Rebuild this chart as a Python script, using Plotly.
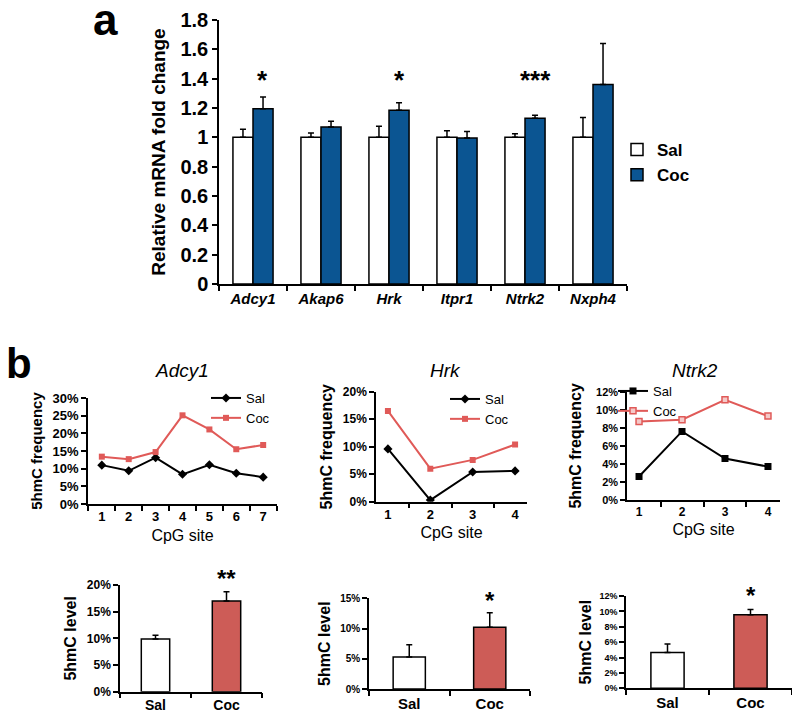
import plotly.graph_objects as go

# ---------------- data ----------------
genes_a = ["Adcy1", "Akap6", "Hrk", "Itpr1", "Ntrk2", "Nxph4"]
sal_a = [1.0, 1.0, 1.0, 1.0, 1.0, 1.0]
sal_a_err = [0.055, 0.03, 0.075, 0.045, 0.025, 0.135]
coc_a = [1.195, 1.07, 1.185, 0.995, 1.13, 1.36]
coc_a_err = [0.08, 0.04, 0.05, 0.045, 0.02, 0.28]
sig_a = ["*", "", "*", "", "***", ""]

sites_adcy1 = ["1", "2", "3", "4", "5", "6", "7"]
adcy1_sal = [11.0, 9.4, 13.1, 8.4, 11.1, 8.7, 7.6]
adcy1_coc = [13.4, 12.7, 14.7, 25.1, 21.1, 15.5, 16.7]

sites_hrk = ["1", "2", "3", "4"]
hrk_sal = [9.6, 0.3, 5.4, 5.6]
hrk_coc = [16.5, 6.0, 7.6, 10.4]

sites_ntrk2 = ["1", "2", "3", "4"]
ntrk2_sal = [2.6, 7.6, 4.6, 3.7]
ntrk2_coc = [8.7, 8.9, 11.1, 9.3]

groups = ["Sal", "Coc"]
lvl_adcy1 = [9.9, 17.0]
lvl_adcy1_err = [0.7, 1.75]
lvl_hrk = [5.3, 10.2]
lvl_hrk_err = [2.0, 2.4]
lvl_ntrk2 = [4.65, 9.55]
lvl_ntrk2_err = [1.1, 0.7]
sig_b = ["**", "*", "*"]

# ---------------- style ----------------
PAGE_W, PAGE_H = 800, 719
OFF = 8  # default body margin of the html page
W, H = PAGE_W - 2 * OFF, PAGE_H - 2 * OFF
FONT = "Liberation Sans, Arial, sans-serif"
BLUE = "#0B5592"
RED_LINE = "#E05A58"
RED_BAR = "#CD5C57"


def fx_free(px):
    return (px - OFF) / W


def fy_free(py):
    return 1 - (py - OFF) / H


def fx(px):
    return min(1.0, max(0.0, fx_free(px)))


def fy(py):
    return min(1.0, max(0.0, fy_free(py)))


fig = go.Figure()

# panel a bars
fig.add_trace(go.Bar(
    x=genes_a, y=sal_a, name="Sal", legend="legend",
    marker=dict(color="white", line=dict(color="black", width=1.5)),
    error_y=dict(type="data", array=sal_a_err, arrayminus=[0] * 6, symmetric=False,
                 color="black", thickness=1.5, width=3),
    xaxis="x", yaxis="y"))
fig.add_trace(go.Bar(
    x=genes_a, y=coc_a, name="Coc", legend="legend",
    marker=dict(color=BLUE, line=dict(color="black", width=1.5)),
    error_y=dict(type="data", array=coc_a_err, arrayminus=[0] * 6, symmetric=False,
                 color="black", thickness=1.5, width=3),
    xaxis="x", yaxis="y"))

# line charts
line_sets = [
    (sites_adcy1, adcy1_sal, adcy1_coc, "2", "legend2", "diamond", "square"),
    (sites_hrk, hrk_sal, hrk_coc, "3", "legend3", "diamond", "square"),
    (sites_ntrk2, ntrk2_sal, ntrk2_coc, "4", "legend4", "square", "square"),
]
for i, (xs, s, c, ax, lg, ms, mc) in enumerate(line_sets):
    fig.add_trace(go.Scatter(
        x=xs, y=s, name="Sal", legend=lg, mode="lines+markers",
        line=dict(color="black", width=2),
        marker=dict(symbol=ms, size=7, color="black"),
        xaxis="x" + ax, yaxis="y" + ax))
    cm = dict(symbol=mc, size=6, color=RED_LINE)
    if i == 2:
        cm = dict(symbol=mc, size=6, color="#F4C9C8", line=dict(color=RED_LINE, width=1.5))
    fig.add_trace(go.Scatter(
        x=xs, y=c, name="Coc", legend=lg, mode="lines+markers",
        line=dict(color=RED_LINE, width=2), marker=cm,
        xaxis="x" + ax, yaxis="y" + ax))

# bottom bar charts
bar_sets = [
    (lvl_adcy1, lvl_adcy1_err, "5"),
    (lvl_hrk, lvl_hrk_err, "6"),
    (lvl_ntrk2, lvl_ntrk2_err, "7"),
]
for vals, errs, ax in bar_sets:
    fig.add_trace(go.Bar(
        x=groups, y=vals, width=0.4, showlegend=False,
        marker=dict(color=["white", RED_BAR], line=dict(color="black", width=1.5)),
        error_y=dict(type="data", array=errs, arrayminus=[0, 0], symmetric=False,
                     color="black", thickness=1.5, width=3),
        xaxis="x" + ax, yaxis="y" + ax))

axis_common = dict(showgrid=False, zeroline=False, showline=True, linecolor="black",
                   linewidth=1.5, ticks="outside", tickcolor="black", tickwidth=1.5,
                   ticklen=5, fixedrange=True, automargin=False)


def xax(x0, x1, anchor, size, italic=False, title=None, tsize=16, standoff=6):
    d = dict(axis_common, domain=[fx(x0), fx(x1)], anchor=anchor, type="category",
             tickson="boundaries",
             tickfont=dict(family=FONT, size=size, color="black",
                           weight="bold", style="italic" if italic else "normal"))
    if title:
        d["title"] = dict(text=title, font=dict(family=FONT, size=tsize, color="black"),
                          standoff=standoff)
    return d


def yax(y0, y1, anchor, rng, dtick, size, title, tsize, suffix="", standoff=6):
    return dict(axis_common, domain=[fy(y1), fy(y0)], anchor=anchor, range=rng,
                dtick=dtick, ticksuffix=suffix,
                tickfont=dict(family=FONT, size=size, color="black", weight="bold"),
                title=dict(text=title, standoff=standoff,
                           font=dict(family=FONT, size=tsize, color="black", weight="bold")))


layout = dict(
    width=W, height=H, autosize=False,
    margin=dict(l=0, r=0, t=0, b=0),
    paper_bgcolor="white", plot_bgcolor="white",
    barmode="group", bargap=0.41, bargroupgap=0,
    font=dict(family=FONT, color="black"),
    xaxis=xax(219, 627, "y", 15, italic=True),
    yaxis=yax(20, 284, "x", [0, 1.8], 0.2, 20, "Relative mRNA fold change", 19, standoff=10),
    xaxis2=xax(88, 277, "y2", 13, title="CpG site", tsize=16),
    yaxis2=yax(398, 504, "x2", [0, 30], 5, 13, "5hmC frequency", 15, "%"),
    xaxis3=xax(376, 527, "y3", 13, title="CpG site", tsize=16),
    yaxis3=yax(391.7, 501.7, "x3", [0, 20], 5, 12, "5hmC frequency", 16, "%"),
    xaxis4=xax(627, 780, "y4", 12, title="CpG site", tsize=16),
    yaxis4=yax(391.7, 500, "x4", [0, 12], 2, 11, "5hmC frequency", 16, "%", standoff=10),
    xaxis5=xax(120, 262, "y5", 14),
    yaxis5=yax(585, 691.7, "x5", [0, 20], 5, 12, "5hmC level", 16, "%"),
    xaxis6=xax(369, 530, "y6", 15),
    yaxis6=yax(598.3, 689, "x6", [0, 15], 5, 10, "5hmC level", 16, "%"),
    xaxis7=xax(626, 797, "y7", 15),
    yaxis7=yax(596, 688.3, "x7", [0, 12], 2, 9, "5hmC level", 16, "%", standoff=4),
    legend=dict(x=fx(617), y=fy(132), xanchor="left", yanchor="top",
                font=dict(family=FONT, size=17, color="black", weight="bold"),
                bgcolor="rgba(0,0,0,0)", itemwidth=30, tracegroupgap=0),
    legend2=dict(x=fx(206), y=fy(383), xanchor="left", yanchor="top",
                 font=dict(family=FONT, size=13, color="black"),
                 bgcolor="rgba(0,0,0,0)", itemwidth=30),
    legend3=dict(x=fx(445), y=fy(384), xanchor="left", yanchor="top",
                 font=dict(family=FONT, size=13, color="black"),
                 bgcolor="rgba(0,0,0,0)", itemwidth=30),
    legend4=dict(x=fx(613), y=fy(376), xanchor="left", yanchor="top",
                 font=dict(family=FONT, size=13, color="black"),
                 bgcolor="rgba(0,0,0,0)", itemwidth=30),
    showlegend=True,
)

annotations = []
# stars panel a
for g, s in zip(genes_a, sig_a):
    if s:
        annotations.append(dict(x=g, y=1.42, xref="x", yref="y", text=s, showarrow=False,
                                xshift=10, yshift=-4,
                                font=dict(family=FONT, size=26, color="black", weight="bold")))
# stars bottom (vertical position in page pixels)
star_py = [575, 597, 592]
for s, ax, py in zip(sig_b, ["5", "6", "7"], star_py):
    annotations.append(dict(x="Coc", y=fy_free(py + 3), xref="x" + ax, yref="paper", text=s,
                            showarrow=False, yanchor="middle",
                            font=dict(family=FONT, size=24, color="black", weight="bold")))
# gene titles
for name, cx in [("Adcy1", 182), ("Hrk", 445), ("Ntrk2", 695)]:
    annotations.append(dict(x=fx(cx), y=fy(370), xref="paper", yref="paper", text=name,
                            showarrow=False, xanchor="center", yanchor="middle",
                            font=dict(family=FONT, size=19, color="black", style="italic")))
# panel letters
annotations.append(dict(x=fx_free(91), y=fy_free(20), xref="paper", yref="paper", text="a",
                        showarrow=False, xanchor="left", yanchor="middle",
                        font=dict(family=FONT, size=44, color="black", weight="bold")))
annotations.append(dict(x=fx_free(4), y=fy_free(363), xref="paper", yref="paper", text="b",
                        showarrow=False, xanchor="left", yanchor="middle",
                        font=dict(family=FONT, size=42, color="black", weight="bold")))
layout["annotations"] = annotations

fig.update_layout(layout)
fig.write_html("out.html")
